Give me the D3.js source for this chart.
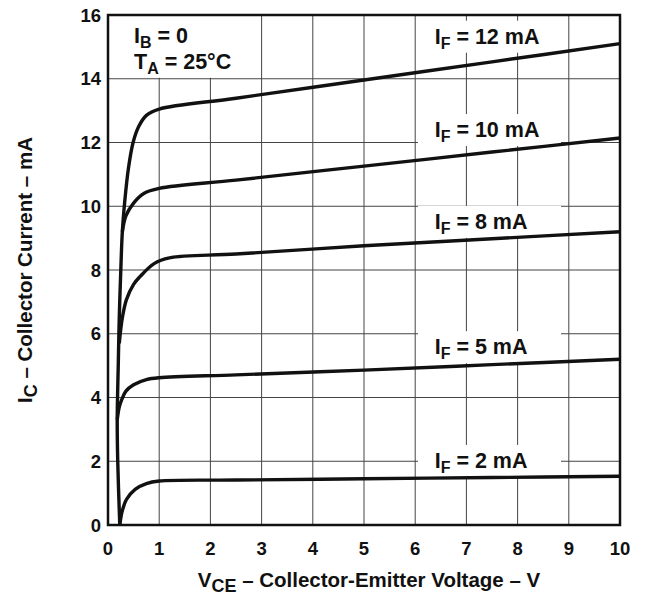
<!DOCTYPE html>
<html>
<head>
<meta charset="utf-8">
<script src="https://cdn.jsdelivr.net/npm/d3@7"></script>
<style>
  body { margin: 0; background: #fff; }
  text { font-family: "Liberation Sans", Arial, sans-serif; font-weight: bold; fill: #111; }
</style>
</head>
<body>
<svg id="chart" width="647" height="597"></svg>
<script>
// tick labels
var xTicks = [0, 1, 2, 3, 4, 5, 6, 7, 8, 9, 10];
var yTicks = [0, 2, 4, 6, 8, 10, 12, 14, 16];

// curves: [VCE (V), IC (mA)]
var curveIF12 = [[0.23, 0], [0.19, 2], [0.18, 3.3], [0.2, 5], [0.22, 6.5], [0.25, 8], [0.28, 9.2], [0.33, 10.2], [0.4, 11.2], [0.49, 12], [0.6, 12.5], [0.75, 12.85], [1.0, 13.05], [2.5, 13.39], [5, 13.96], [7.5, 14.53], [10, 15.1]];
var curveIF10 = [[0.28, 9.2], [0.35, 9.7], [0.5, 10.1], [0.7, 10.4], [1.0, 10.56], [2.5, 10.82], [5, 11.26], [7.5, 11.7], [10, 12.14]];
var curveIF8 = [[0.22, 5.7], [0.28, 6.5], [0.36, 7.07], [0.5, 7.55], [0.63, 7.8], [0.9, 8.2], [1.2, 8.38], [2.5, 8.5], [5, 8.76], [7.5, 8.98], [10, 9.2]];
var curveIF5 = [[0.18, 3.3], [0.22, 3.7], [0.27, 3.94], [0.35, 4.2], [0.5, 4.4], [0.75, 4.56], [1.0, 4.62], [2.5, 4.71], [5, 4.86], [7.5, 5.03], [10, 5.2]];
var curveIF2 = [[0.23, 0], [0.28, 0.45], [0.36, 0.8], [0.53, 1.12], [0.75, 1.3], [1.0, 1.38], [2.5, 1.41], [5, 1.45], [7.5, 1.49], [10, 1.53]];
var curves = [curveIF12, curveIF10, curveIF8, curveIF5, curveIF2];

// curve labels
var labelMA = ["12", "10", "8", "5", "2"];
var labelI = [15.1, 12.17, 9.29, 5.36, 1.79]; // baseline level in mA
var labelV = 6.38;

var m = [15, 27, 72, 108]; // top right bottom left
var W = 647, H = 597;
var w = W - m[1] - m[3];
var h = H - m[0] - m[2];

var svg = d3.select("#chart");
var x = d3.scaleLinear().domain([0, 10]).range([m[3], m[3] + w]);
var y = d3.scaleLinear().domain([0, 16]).range([m[0] + h, m[0]]);

// grid
svg.append("g").selectAll("line").data(xTicks.slice(1, -1)).enter().append("line")
  .attr("x1", d => x(d)).attr("x2", d => x(d))
  .attr("y1", y(0)).attr("y2", y(16))
  .attr("stroke", "#444").attr("stroke-width", 1);
svg.append("g").selectAll("line").data(yTicks.slice(1, -1)).enter().append("line")
  .attr("y1", d => y(d)).attr("y2", d => y(d))
  .attr("x1", x(0)).attr("x2", x(10))
  .attr("stroke", "#444").attr("stroke-width", 1);

// white boxes behind the texts
svg.append("rect")
  .attr("x", x(0) + 1).attr("y", y(16) + 1)
  .attr("width", 131).attr("height", y(14) - y(16) - 2)
  .attr("fill", "#fff");
svg.append("g").selectAll("rect").data(labelI).enter().append("rect")
  .attr("x", 418).attr("width", 143)
  .attr("y", d => y(d) - 23).attr("height", 32)
  .attr("fill", "#fff");

// frame
svg.append("rect")
  .attr("x", x(0)).attr("y", y(16))
  .attr("width", w).attr("height", h)
  .attr("fill", "none").attr("stroke", "#111").attr("stroke-width", 2.5);

// curves
var line = d3.line()
  .x(d => x(d[0]))
  .y(d => y(d[1]))
  .curve(d3.curveCatmullRom.alpha(0.5));

svg.append("g").selectAll("path").data(curves).enter().append("path")
  .attr("d", line)
  .attr("fill", "none")
  .attr("stroke", "#111")
  .attr("stroke-width", 3.4)
  .attr("stroke-linejoin", "round");

// tick labels
svg.append("g").selectAll("text").data(xTicks).enter().append("text")
  .attr("x", d => x(d)).attr("y", y(0) + 30)
  .attr("text-anchor", "middle")
  .style("font-size", "18.5px")
  .text(d => d);
svg.append("g").selectAll("text").data(yTicks).enter().append("text")
  .attr("x", x(0) - 7).attr("y", d => y(d) + 6.5)
  .attr("text-anchor", "end")
  .style("font-size", "18.5px")
  .text(d => d);

// axis titles
var xt = svg.append("text")
  .attr("x", (x(0) + x(10)) / 2 + 5).attr("y", 587)
  .attr("text-anchor", "middle")
  .style("font-size", "20.5px");
xt.append("tspan").text("V");
xt.append("tspan").attr("dy", 5).style("font-size", "18px").text("CE");
xt.append("tspan").attr("dy", -5).text(" \u2013 Collector-Emitter Voltage \u2013 V");

var yt = svg.append("text")
  .attr("transform", "translate(32," + (y(8)) + ") rotate(-90)")
  .attr("text-anchor", "middle")
  .style("font-size", "20.5px");
yt.append("tspan").text("I");
yt.append("tspan").attr("dy", 5).style("font-size", "18px").text("C");
yt.append("tspan").attr("dy", -5).text(" \u2013 Collector Current \u2013 mA");

// condition labels
var c1 = svg.append("text").attr("x", 134).attr("y", 43).style("font-size", "21.5px");
c1.append("tspan").text("I");
c1.append("tspan").attr("dy", 5).style("font-size", "16px").text("B");
c1.append("tspan").attr("dy", -5).text(" = 0");
var c2 = svg.append("text").attr("x", 134).attr("y", 69).style("font-size", "21.5px");
c2.append("tspan").text("T");
c2.append("tspan").attr("dy", 5).style("font-size", "16px").text("A");
c2.append("tspan").attr("dy", -5).text(" = 25\u00b0C");

// curve labels
labelMA.forEach(function(v, i) {
  var t = svg.append("text")
    .attr("x", x(labelV)).attr("y", y(labelI[i]))
    .style("font-size", "21.5px");
  t.append("tspan").text("I");
  t.append("tspan").attr("dy", 5).style("font-size", "16px").text("F");
  t.append("tspan").attr("dy", -5).text(" = " + v + " mA");
});
</script>
</body>
</html>
